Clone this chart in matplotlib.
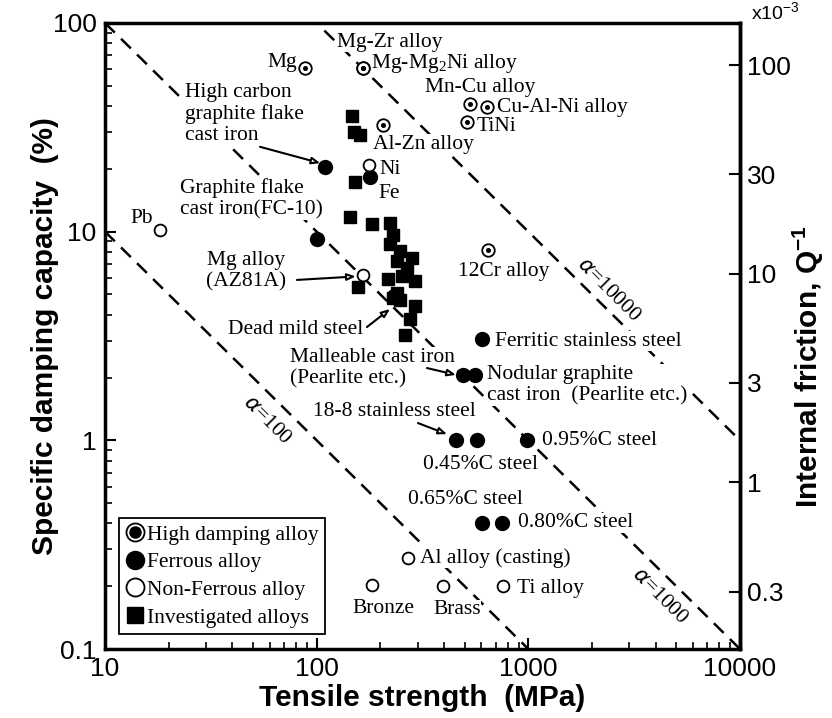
import numpy as np
import matplotlib
matplotlib.use("Agg")
import matplotlib.pyplot as plt
from matplotlib.lines import Line2D
from matplotlib.legend_handler import HandlerTuple
from matplotlib.ticker import NullLocator, LogLocator

plt.rcParams['font.family'] = ['Liberation Sans', 'DejaVu Sans']
plt.rcParams['mathtext.fontset'] = 'custom'
plt.rcParams['mathtext.rm'] = 'Liberation Sans'
SERIF = ['Liberation Serif', 'DejaVu Serif']

# tensile strength (MPa) vs specific damping capacity (%)
hd_names = ["Mg", "Mg-Zr alloy", "Mg-Mg2Ni alloy", "Al-Zn alloy", "Mn-Cu alloy",
            "Cu-Al-Ni alloy", "TiNi", "12Cr alloy"]
hd_ts = [88, 165, 165, 205, 530, 640, 515, 645]
hd_sdc = [61, 61, 61, 32.5, 41, 39.5, 33.5, 8.2]

fe_names = ["High carbon graphite flake cast iron", "Fe", "FC-10", "Dead mild steel",
            "Ferritic stainless steel", "Malleable cast iron", "Nodular graphite cast iron",
            "18-8 stainless steel", "0.45%C steel", "0.95%C steel", "0.65%C steel", "0.80%C steel"]
fe_ts = [109, 179, 100, 232, 605, 490, 560, 455, 570, 985, 605, 750]
fe_sdc = [20.4, 18.3, 9.2, 4.9, 3.05, 2.05, 2.05, 1.0, 1.0, 1.0, 0.4, 0.4]

nf_names = ["Pb", "Ni", "Mg alloy (AZ81A)", "Al alloy (casting)", "Bronze", "Brass", "Ti alloy"]
nf_ts = [18.2, 177, 166, 270, 182, 395, 760]
nf_sdc = [10.2, 20.9, 6.2, 0.273, 0.203, 0.2, 0.2]

inv_ts = [147, 150, 160, 152, 143, 182, 222, 229, 222, 247, 282, 239, 267, 253,
          291, 217, 157, 239, 229, 247, 291, 276, 261]
inv_sdc = [36, 30, 29, 17.3, 11.8, 10.9, 11.0, 9.6, 8.7, 8.1, 7.5, 7.2, 6.7, 6.1,
           5.8, 5.9, 5.4, 5.1, 4.8, 4.7, 4.4, 3.8, 3.2]

alpha_vals = [100, 1000, 10000]   # alpha = strength x damping

x_ticks = [10, 100, 1000, 10000]
y_ticks = [0.1, 1, 10, 100]
q_ticks = [0.3, 1, 3, 10, 30, 100]   # internal friction, x10^-3
Q_TO_SDC = 0.2 * np.pi               # SDC(%) = 2*pi*Q^-1*100

fig = plt.figure(figsize=(8.32, 7.18), dpi=100)
ax = fig.add_axes([0.1262, 0.0961, 0.7632, 0.8719])
ax.set_xscale('log')
ax.set_yscale('log')
ax.set_xlim(10, 10000)
ax.set_ylim(0.1, 100)

# alpha lines
s = np.array([10.0, 10000.0])
for a in alpha_vals:
    ax.plot(s, a / s, color='black', lw=1.8, dashes=(5.5, 3.5), zorder=2)

mk = dict(linestyle='none', zorder=5)
ax.plot(inv_ts, inv_sdc, marker='s', ms=8, mfc='black', mec='black', **mk)
ax.plot(fe_ts, fe_sdc, marker='o', ms=10, mfc='black', mec='black', **mk)
ax.plot(nf_ts, nf_sdc, marker='o', ms=8.5, mfc='white', mec='black', mew=1.3, **mk)
ax.plot(hd_ts, hd_sdc, marker='o', ms=9, mfc='white', mec='black', mew=1.3, **mk)
ax.plot(hd_ts, hd_sdc, marker='o', ms=2.6, mfc='black', mec='black', **mk)

tk = dict(family=SERIF, fontsize=15.5, zorder=3,
          bbox=dict(facecolor='white', edgecolor='none', pad=0.4))
labels = [
    ("Mg", 80.7, 64.3, 'right', 'center'),
    ("Mg-Zr alloy", 125, 81, 'left', 'center'),
    ("Mg-Mg$_{\\mathregular{2}}$Ni alloy", 180, 63.7, 'left', 'center'),
    ("Mn-Cu alloy", 325, 49.3, 'left', 'center'),
    ("Cu-Al-Ni alloy", 711, 39.2, 'left', 'center'),
    ("TiNi", 571, 31.8, 'left', 'center'),
    ("Al-Zn alloy", 184, 26.3, 'left', 'center'),
    ("High carbon\ngraphite flake\ncast iron", 23.9, 51.6, 'left', 'top'),
    ("Ni", 199, 19.8, 'left', 'center'),
    ("Fe", 195, 15.3, 'left', 'center'),
    ("Graphite flake\ncast iron(FC-10)", 22.6, 18.1, 'left', 'top'),
    ("Pb", 16.9, 11.6, 'right', 'center'),
    ("Mg alloy\n(AZ81A)", 46.4, 8.1, 'center', 'top'),
    ("Dead mild steel", 38.1, 3.38, 'left', 'center'),
    ("Malleable cast iron\n(Pearlite etc.)", 74.8, 2.77, 'left', 'top'),
    ("18-8 stainless steel", 96, 1.37, 'left', 'center'),
    ("12Cr alloy", 767, 6.41, 'center', 'center'),
    ("Ferritic stainless steel", 695, 2.99, 'left', 'center'),
    ("Nodular graphite\ncast iron  (Pearlite etc.)", 637, 2.30, 'left', 'top'),
    ("0.95%C steel", 1159, 1.0, 'left', 'center'),
    ("0.45%C steel", 318, 0.762, 'left', 'center'),
    ("0.65%C steel", 270, 0.518, 'left', 'center'),
    ("0.80%C steel", 893, 0.402, 'left', 'center'),
    ("Al alloy (casting)", 307, 0.273, 'left', 'center'),
    ("Bronze", 206, 0.157, 'center', 'center'),
    ("Brass", 460, 0.154, 'center', 'center'),
    ("Ti alloy", 883, 0.196, 'left', 'center'),
]
for txt, x, y, ha, va in labels:
    ax.text(x, y, txt, ha=ha, va=va, linespacing=1.15, **tk)

arrows = [
    ((54, 25.5), (104, 21.3)),
    ((80.7, 5.87), (153, 6.1)),
    ((172.8, 3.49), (222, 4.26)),
    ((332, 2.22), (455, 2.06)),
    ((301, 1.21), (413, 1.07)),
]
for start, end in arrows:
    ax.annotate("", xy=end, xytext=start, zorder=4,
                arrowprops=dict(arrowstyle='-|>,head_length=0.5,head_width=0.2',
                                fc='white', ec='black', lw=1.5,
                                shrinkA=0, shrinkB=0))

for txt, x, y in [("$\\alpha$=100", 58.2, 1.25), ("$\\alpha$=10000", 2377, 5.26),
                  ("$\\alpha$=1000", 4188, 0.178)]:
    ax.text(x, y, txt, family=SERIF, fontsize=15.5, rotation=-45,
            rotation_mode='anchor', ha='center', va='center')

# axes styling
for sp in ax.spines.values():
    sp.set_linewidth(2.5)
ax.set_xticks(x_ticks, labels=[str(v) for v in x_ticks])
ax.set_yticks(y_ticks, labels=['0.1', '1', '10', '100'])
ax.xaxis.set_minor_locator(LogLocator(base=10, subs=np.arange(2, 10)))
ax.yaxis.set_minor_locator(LogLocator(base=10, subs=np.arange(2, 10)))
ax.tick_params(which='both', direction='in', top=False, right=False, labelsize=19)
ax.tick_params(which='major', length=8, width=1.5, pad=6)
ax.tick_params(which='minor', length=5, width=1.2)

ax.set_xlabel("Tensile strength  (MPa)", fontsize=21.5, fontweight='bold', labelpad=2)
ax.set_ylabel("Specific damping capacity  (%)", fontsize=21.5, fontweight='bold')
ax.yaxis.set_label_coords(-0.072, 0.5)

sec = ax.secondary_yaxis('right', functions=(lambda v: v / Q_TO_SDC, lambda q: q * Q_TO_SDC))
sec.set_yticks(q_ticks, labels=[str(v) for v in q_ticks])
sec.yaxis.set_minor_locator(NullLocator())
sec.tick_params(which='major', direction='in', length=8, width=1.5, labelsize=19, pad=5)
sec.spines['right'].set_linewidth(2.5)
fig.text(0.971, 0.49, "Internal friction, Q$^{\\mathregular{-1}}$", fontsize=21.5,
         fontweight='bold', rotation=90, ha='center', va='center')
fig.text(0.903, 0.982, "x10$^{\\mathregular{-3}}$", fontsize=14, ha='left', va='center')

# legend
h_hd = (Line2D([], [], marker='o', ls='none', ms=13, mfc='white', mec='black', mew=1.3),
        Line2D([], [], marker='o', ls='none', ms=8, mfc='black', mec='black'))
h_fe = Line2D([], [], marker='o', ls='none', ms=13, mfc='black', mec='black')
h_nf = Line2D([], [], marker='o', ls='none', ms=13, mfc='white', mec='black', mew=1.3)
h_inv = Line2D([], [], marker='s', ls='none', ms=12, mfc='black', mec='black')
leg = ax.legend([h_hd, h_fe, h_nf, h_inv],
                ["High damping alloy", "Ferrous alloy", "Non-Ferrous alloy", "Investigated alloys"],
                handler_map={tuple: HandlerTuple(ndivide=1, pad=0)},
                loc='lower left', bbox_to_anchor=(0.022, 0.024), fancybox=False,
                framealpha=1, edgecolor='black', prop=dict(family=SERIF, size=15.5),
                handlelength=0.9, handletextpad=0.1, borderpad=0.3, labelspacing=0.35,
                borderaxespad=0)
leg.get_frame().set_linewidth(1.3)
leg.set_zorder(6)

fig.savefig("out.png", dpi=100)
